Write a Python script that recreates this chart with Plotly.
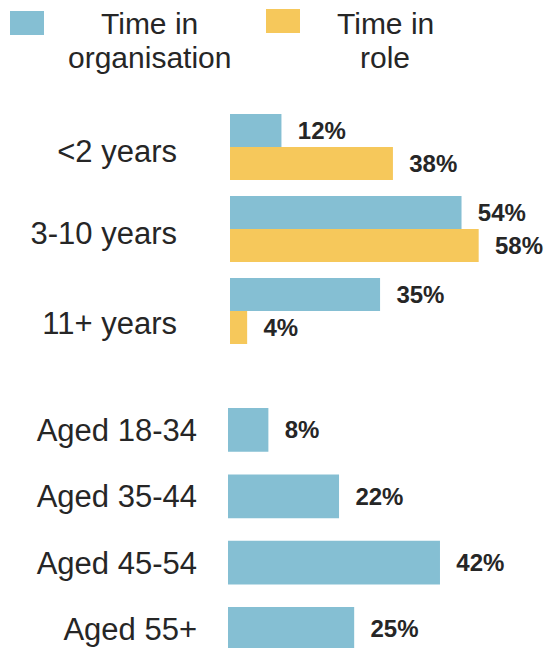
import plotly.graph_objects as go

# ---- data ----
tenure_categories = ["<2 years", "3-10 years", "11+ years"]
time_in_organisation = [12, 54, 35]
time_in_role = [38, 58, 4]

age_categories = ["Aged 18-34", "Aged 35-44", "Aged 45-54", "Aged 55+"]
age_values = [8, 22, 42, 25]

series_names = ["Time in<br>organisation", "Time in<br>role"]

# ---- style ----
BLUE = "#85BFD3"
YELLOW = "#F6C85B"
TEXT = "#262626"
FONT = "Liberation Sans, Arial, Helvetica, sans-serif"
W, H = 549, 648
label_tmpl = "\u00a0\u00a0%{x}%"
tenure_label_shift = [0.05, 0.055, 0.145]  # small downward nudge of tick labels (category units)


def px(x):
    return x / W


def py(y):
    return 1 - y / H


fig = go.Figure()

common = dict(
    orientation="h",
    texttemplate=label_tmpl,
    textposition="outside",
    constraintext="none",
    cliponaxis=False,
    textfont=dict(family=FONT, size=24, color=TEXT, weight="bold"),
    hoverinfo="skip",
)

fig.add_trace(go.Bar(x=time_in_organisation, y=tenure_categories, marker=dict(color=BLUE, line=dict(width=0)),
                     name="Time in organisation", xaxis="x", yaxis="y", **common))
fig.add_trace(go.Bar(x=time_in_role, y=tenure_categories, marker=dict(color=YELLOW, line=dict(width=0)),
                     name="Time in role", xaxis="x", yaxis="y", **common))
fig.add_trace(go.Bar(x=age_values, y=age_categories, marker=dict(color=BLUE, line=dict(width=0)),
                     width=0.66, name="Age", xaxis="x2", yaxis="y2", **common))

fig.update_layout(
    width=W, height=H,
    margin=dict(l=0, r=0, t=0, b=0),
    paper_bgcolor="white", plot_bgcolor="white",
    showlegend=False,
    barmode="group", bargap=0.195, bargroupgap=0,
    font=dict(family=FONT, color=TEXT),
    xaxis=dict(domain=[px(230), 1], range=[0, 74.4], visible=False, anchor="y", fixedrange=True),
    yaxis=dict(domain=[py(352), py(106)], range=[2.5, -0.5], type="category",
               tickmode="array",
               tickvals=[i + s for i, s in enumerate(tenure_label_shift)],
               ticktext=tenure_categories,
               showgrid=False, zeroline=False, showline=False, ticks="",
               tickfont=dict(size=31, color=TEXT, family=FONT), ticklabelstandoff=52, anchor="x"),
    xaxis2=dict(domain=[px(228), 1], range=[0, 63.6], visible=False, anchor="y2", fixedrange=True),
    yaxis2=dict(domain=[0, py(396.8)], range=[(H - 430) / 66.33, -0.5], type="category",
                showgrid=False, zeroline=False, showline=False, ticks="",
                tickfont=dict(size=31, color=TEXT, family=FONT), ticklabelstandoff=30, anchor="x2"),
)

# legend drawn as swatches + centred two-line labels
legend_items = [
    (series_names[0], BLUE, 10, 11, 149),
    (series_names[1], YELLOW, 266, 9, 385),
]
line_centres = [23.5, 57.5]
for name, color, sx, sy, tx in legend_items:
    fig.add_shape(type="rect", xref="paper", yref="paper",
                  x0=px(sx), x1=px(sx + 34), y0=py(sy + 24), y1=py(sy),
                  fillcolor=color, line=dict(width=0))
    for line_text, cy in zip(name.split("<br>"), line_centres):
        fig.add_annotation(xref="paper", yref="paper", x=px(tx), y=py(cy),
                           xanchor="center", yanchor="middle", align="center",
                           text=line_text, showarrow=False,
                           font=dict(family=FONT, size=30, color=TEXT))

fig.write_html(
    "out.html",
    config={"displayModeBar": False},
    post_script="document.body.style.margin='0';document.body.style.overflow='hidden';",
)
